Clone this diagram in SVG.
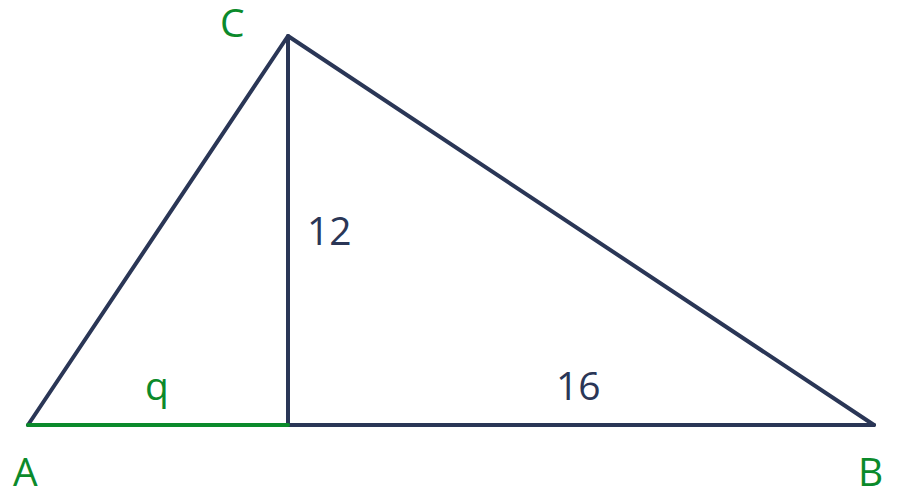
<svg xmlns="http://www.w3.org/2000/svg" width="902" height="498" viewBox="0 0 902 498">
<style>
.edge{stroke:#2a3656;stroke-width:4;fill:none;stroke-linecap:round;stroke-linejoin:round}
.green{stroke:#0b8a2b;stroke-width:4;fill:none;stroke-linecap:round}
.lbl{font-family:"Open Sans","Noto Sans",sans-serif;font-size:39px}
.g{fill:#0b8a2b}
.d{fill:#2a3656}
</style>
<rect width="902" height="498" fill="#ffffff"/>
<g id="connectors">
<polyline class="edge" points="28,425 288,36 874,425"/>
<line class="edge" x1="288" y1="36" x2="288" y2="425"/>
<line class="edge" x1="288" y1="425" x2="874" y2="425"/>
<line class="green" x1="28" y1="425" x2="288" y2="425"/>
</g>
<g id="C"><text class="lbl g" x="220" y="37">C</text></g>
<g id="A"><text class="lbl g" x="13" y="486">A</text></g>
<g id="B"><text class="lbl g" x="858" y="486">B</text></g>
<g id="q"><text class="lbl g" x="145" y="400">q</text></g>
<g id="h12"><text class="lbl d" x="307" y="245">12</text></g>
<g id="p16"><text class="lbl d" x="556" y="400">16</text></g>
</svg>
